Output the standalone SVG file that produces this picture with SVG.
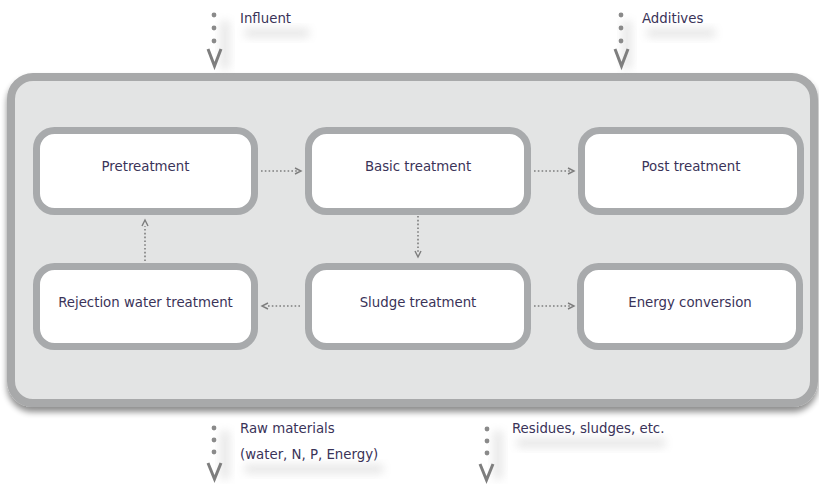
<svg xmlns="http://www.w3.org/2000/svg" width="819" height="484" viewBox="0 0 819 484">
  <style>
    .lbl { font-family: "DejaVu Sans Condensed", "DejaVu Sans", "Liberation Sans Narrow", sans-serif; font-stretch: condensed; font-size: 14.8px; fill: #3a3358; }
    .node rect { fill: #ffffff; stroke: #a8aaac; stroke-width: 7; }
    .node text { text-anchor: middle; }
    .dots { fill: none; stroke: #7d7d7d; stroke-width: 1.6; stroke-dasharray: 1.6 2.2; }
    .head { fill: none; stroke: #7d7d7d; stroke-width: 1.4; stroke-linejoin: miter; }
    .bigdot { fill: #8a8a8a; }
    .bighead { fill: none; stroke: #7e7e7e; stroke-width: 3; stroke-linejoin: miter; }
    .haze { fill: #9a9a9a; opacity: 0.22; filter: url(#soft); }
  </style>
  <defs>
    <filter id="soft" x="-50%" y="-50%" width="200%" height="200%">
      <feGaussianBlur stdDeviation="4"/>
    </filter>
    <filter id="drop" x="-5%" y="-5%" width="110%" height="115%">
      <feGaussianBlur in="SourceAlpha" stdDeviation="3"/>
      <feOffset dy="5" result="b"/>
      <feComponentTransfer in="b" result="s"><feFuncA type="linear" slope="0.45"/></feComponentTransfer>
      <feMerge><feMergeNode in="s"/><feMergeNode in="SourceGraphic"/></feMerge>
    </filter>
  </defs>

  <!-- plant boundary -->
  <g id="plant">
    <rect x="11" y="77" width="803" height="326" rx="22" fill="#e3e4e4" stroke="#a8a9aa" stroke-width="8" filter="url(#drop)"/>
  </g>

  <!-- soft haze beside the external flows -->
  <g id="haze">
    <rect class="haze" x="244" y="28" width="66" height="10" rx="5"/>
    <rect class="haze" x="646" y="28" width="70" height="10" rx="5"/>
    <rect class="haze" x="220" y="20" width="10" height="50" rx="5"/>
    <rect class="haze" x="622" y="20" width="10" height="50" rx="5"/>
    <rect class="haze" x="244" y="464" width="140" height="10" rx="5"/>
    <rect class="haze" x="516" y="438" width="150" height="10" rx="5"/>
    <rect class="haze" x="220" y="430" width="10" height="50" rx="5"/>
    <rect class="haze" x="493" y="430" width="10" height="50" rx="5"/>
  </g>

  <!-- process units -->
  <g id="pretreatment" class="node">
    <rect x="36.5" y="130.5" width="218" height="81" rx="18"/>
    <text class="lbl" x="145.5" y="171">Pretreatment</text>
  </g>
  <g id="basic-treatment" class="node">
    <rect x="308.5" y="130.5" width="219" height="81" rx="18"/>
    <text class="lbl" x="418" y="171">Basic treatment</text>
  </g>
  <g id="post-treatment" class="node">
    <rect x="581.5" y="130.5" width="219" height="81" rx="18"/>
    <text class="lbl" x="691" y="171">Post treatment</text>
  </g>
  <g id="rejection-water-treatment" class="node">
    <rect x="36.5" y="266.5" width="218" height="80" rx="18"/>
    <text class="lbl" x="145.5" y="307">Rejection water treatment</text>
  </g>
  <g id="sludge-treatment" class="node">
    <rect x="308.5" y="266.5" width="219" height="80" rx="18"/>
    <text class="lbl" x="418" y="307">Sludge treatment</text>
  </g>
  <g id="energy-conversion" class="node">
    <rect x="580.5" y="266.5" width="219" height="80" rx="18"/>
    <text class="lbl" x="690" y="307">Energy conversion</text>
  </g>

  <!-- internal flows -->
  <g id="connectors">
    <!-- pretreatment -> basic treatment -->
    <line class="dots" x1="261" y1="171" x2="297" y2="171"/>
    <polyline class="head" points="295,168 301,171 295,174"/>
    <!-- basic treatment -> post treatment -->
    <line class="dots" x1="534" y1="171" x2="570" y2="171"/>
    <polyline class="head" points="568,168 574,171 568,174"/>
    <!-- basic treatment -> sludge treatment -->
    <line class="dots" x1="418" y1="216" x2="418" y2="252"/>
    <polyline class="head" points="415,251 418,257 421,251"/>
    <!-- sludge treatment -> rejection water treatment -->
    <line class="dots" x1="268" y1="306" x2="302" y2="306"/>
    <polyline class="head" points="268,303 262,306 268,309"/>
    <!-- sludge treatment -> energy conversion -->
    <line class="dots" x1="534" y1="306" x2="570" y2="306"/>
    <polyline class="head" points="568,303 574,306 568,309"/>
    <!-- rejection water treatment -> pretreatment -->
    <line class="dots" x1="145" y1="261" x2="145" y2="226"/>
    <polyline class="head" points="142,226 145,220 148,226"/>

    <!-- influent -->
    <circle class="bigdot" cx="214" cy="15" r="2.4"/>
    <circle class="bigdot" cx="214" cy="28" r="2.4"/>
    <circle class="bigdot" cx="214" cy="41" r="2.4"/>
    <polyline class="bighead" points="208,49 214.5,66 221,49"/>
    <!-- additives -->
    <circle class="bigdot" cx="621" cy="15" r="2.4"/>
    <circle class="bigdot" cx="621" cy="28" r="2.4"/>
    <circle class="bigdot" cx="621" cy="41" r="2.4"/>
    <polyline class="bighead" points="615,49 621.5,66 628,49"/>
    <!-- raw materials -->
    <circle class="bigdot" cx="214" cy="428" r="2.4"/>
    <circle class="bigdot" cx="214" cy="440" r="2.4"/>
    <circle class="bigdot" cx="214" cy="452" r="2.4"/>
    <polyline class="bighead" points="208,463 214.5,479 221,463"/>
    <!-- residues -->
    <circle class="bigdot" cx="487" cy="429" r="2.4"/>
    <circle class="bigdot" cx="487" cy="441" r="2.4"/>
    <circle class="bigdot" cx="487" cy="453" r="2.4"/>
    <polyline class="bighead" points="480,464 486.5,480 493,464"/>
  </g>

  <!-- external flow labels -->
  <g id="labels">
    <text class="lbl" x="240" y="23">Influent</text>
    <text class="lbl" x="642" y="23">Additives</text>
    <text class="lbl" x="240" y="433">Raw materials</text>
    <text class="lbl" x="240" y="459">(water, N, P, Energy)</text>
    <text class="lbl" x="512" y="433">Residues, sludges, etc.</text>
  </g>
</svg>
